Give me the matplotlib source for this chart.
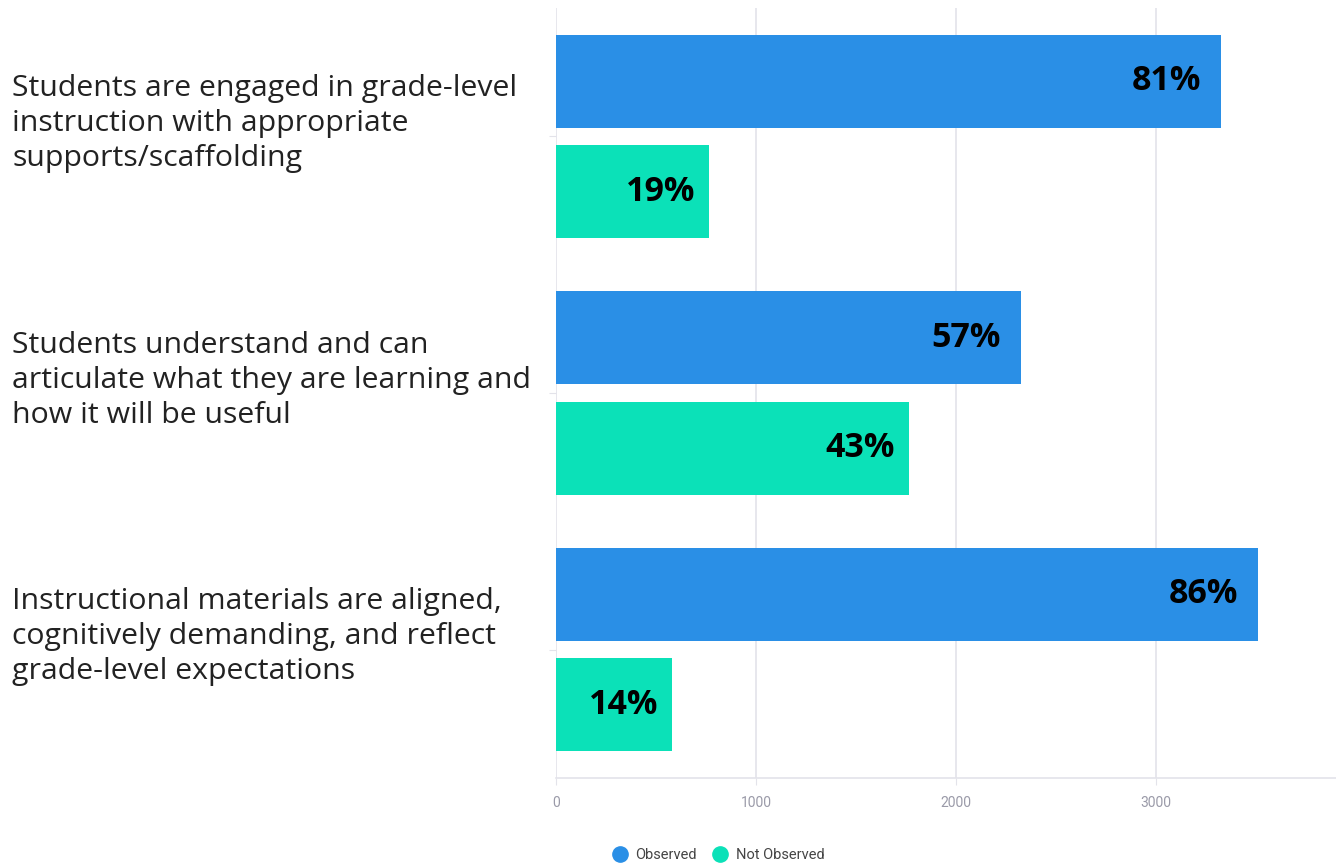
import numpy as np
import matplotlib
matplotlib.use("Agg")
import matplotlib.pyplot as plt
from matplotlib.lines import Line2D
from matplotlib.transforms import blended_transform_factory

categories = [
    "Students are engaged in grade-level\ninstruction with appropriate\nsupports/scaffolding",
    "Students understand and can\narticulate what they are learning and\nhow it will be useful",
    "Instructional materials are aligned,\ncognitively demanding, and reflect\ngrade-level expectations",
]
observed = [3325, 2325, 3510]
not_observed = [765, 1765, 580]
observed_pct = ["81%", "57%", "86%"]
not_observed_pct = ["19%", "43%", "14%"]
series_names = ["Observed", "Not Observed"]
xticks = [0, 1000, 2000, 3000]

blue = "#2A8FE6"
teal = "#0BE1B8"
grid_c = "#E3E3EA"

W, H = 1336, 865
fig = plt.figure(figsize=(W / 100, H / 100), dpi=100)
ax = fig.add_axes([556 / W, 1 - 778 / H, 800 / W, 770 / H])

y = np.arange(len(categories))
off = 0.215
bh = 0.363
ax.barh(y - off, observed, height=bh, color=blue, zorder=3)
ax.barh(y + off, not_observed, height=bh, color=teal, zorder=3)

lab_tr = blended_transform_factory(fig.transFigure, ax.transData)
for i in range(len(categories)):
    ax.annotate(observed_pct[i], (observed[i], y[i] - off), xytext=(-20, 0),
                textcoords="offset pixels", ha="right", va="center",
                fontsize=24.5, fontweight="bold", family="Open Sans", color="black", zorder=4)
    ax.annotate(not_observed_pct[i], (not_observed[i], y[i] + off), xytext=(-14, 0),
                textcoords="offset pixels", ha="right", va="center",
                fontsize=24.5, fontweight="bold", family="Open Sans", color="black", zorder=4)
    ax.text(12 / W, y[i] - 0.05, categories[i], transform=lab_tr,
            ha="left", va="center", fontsize=21.8, family="Open Sans", color="#222222",
            linespacing=1.27)

ax.set_xlim(0, 4000)
ax.set_ylim(2.5, -0.5)
ax.set_xticks(xticks)
ax.set_xticklabels([str(t) for t in xticks], fontsize=10, color="#9A9AA8", family="Roboto")
ax.set_yticks(y)
ax.set_yticklabels([])
ax.tick_params(axis="y", length=5, color=grid_c)
ax.tick_params(axis="x", length=5, color=grid_c, pad=8)
ax.grid(axis="x", color=grid_c, linewidth=1.2, zorder=0)
for s in ["top", "right", "left"]:
    ax.spines[s].set_visible(False)
ax.spines["bottom"].set_color(grid_c)
ax.spines["bottom"].set_linewidth(1.2)

handles = [Line2D([], [], marker="o", linestyle="none", markersize=11, color=blue),
           Line2D([], [], marker="o", linestyle="none", markersize=11, color=teal)]
fig.legend(handles, series_names, loc="center", bbox_to_anchor=(715 / W, 1 - 855 / H),
           ncol=2, frameon=False, handletextpad=0.1, columnspacing=0.6,
           prop={"family": "Roboto", "size": 10.5})
for t in fig.legends[0].get_texts():
    t.set_color("#444444")

fig.savefig("out.png", dpi=100)
